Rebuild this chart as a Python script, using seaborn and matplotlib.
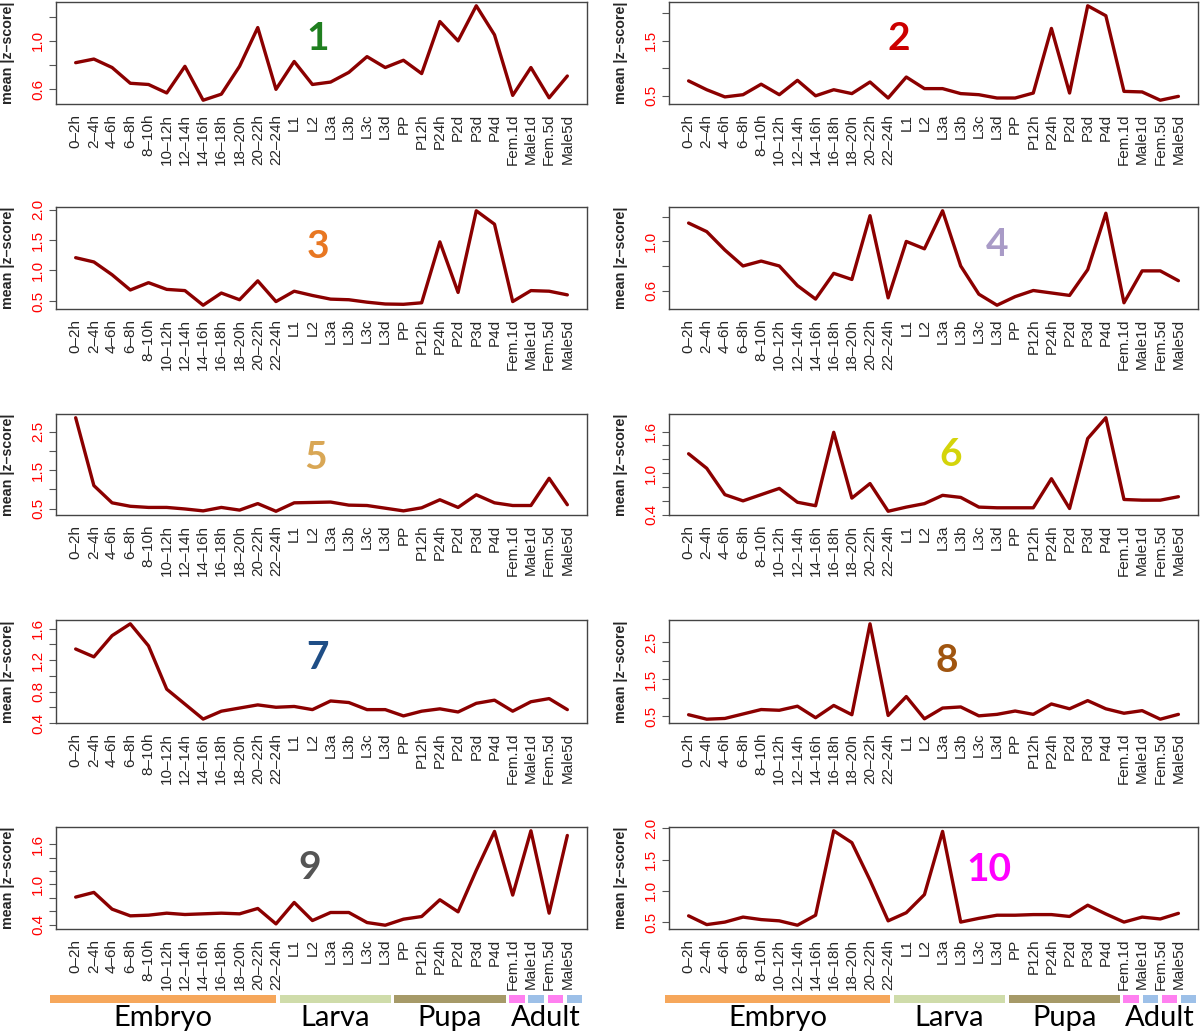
import numpy as np
import pandas as pd
import seaborn as sns
import matplotlib.pyplot as plt
from matplotlib.patches import Rectangle

# time points (x axis)
stages = ["0–2h", "2–4h", "4–6h", "6–8h", "8–10h", "10–12h", "12–14h", "14–16h",
          "16–18h", "18–20h", "20–22h", "22–24h", "L1", "L2", "L3a", "L3b", "L3c",
          "L3d", "PP", "P12h", "P24h", "P2d", "P3d", "P4d", "Fem.1d", "Male1d",
          "Fem.5d", "Male5d"]

# mean |z-score| per cluster
cluster_1 = [0.82, 0.85, 0.78, 0.65, 0.64, 0.57, 0.79, 0.51, 0.56, 0.79, 1.11, 0.60,
             0.83, 0.64, 0.66, 0.74, 0.87, 0.78, 0.84, 0.73, 1.16, 1.00, 1.29, 1.05,
             0.55, 0.78, 0.53, 0.71]
cluster_2 = [0.77, 0.61, 0.48, 0.52, 0.71, 0.52, 0.78, 0.50, 0.61, 0.54, 0.75, 0.46,
             0.84, 0.63, 0.63, 0.54, 0.52, 0.46, 0.46, 0.55, 1.72, 0.55, 2.13, 1.95,
             0.58, 0.57, 0.42, 0.49]
cluster_3 = [1.21, 1.14, 0.93, 0.68, 0.80, 0.69, 0.67, 0.43, 0.63, 0.52, 0.83, 0.49,
             0.66, 0.59, 0.53, 0.52, 0.48, 0.45, 0.445, 0.47, 1.47, 0.64, 1.98, 1.76,
             0.49, 0.67, 0.66, 0.60]
cluster_4 = [1.15, 1.08, 0.93, 0.80, 0.84, 0.80, 0.64, 0.53, 0.74, 0.69, 1.21, 0.54,
             1.00, 0.94, 1.25, 0.80, 0.57, 0.48, 0.55, 0.60, 0.58, 0.56, 0.77, 1.23,
             0.50, 0.76, 0.76, 0.68]
cluster_5 = [2.87, 1.10, 0.65, 0.56, 0.53, 0.53, 0.49, 0.44, 0.53, 0.46, 0.63, 0.43,
             0.65, 0.66, 0.67, 0.59, 0.58, 0.51, 0.44, 0.52, 0.73, 0.53, 0.86, 0.65,
             0.58, 0.58, 1.29, 0.60]
cluster_6 = [1.28, 1.07, 0.69, 0.60, 0.69, 0.78, 0.58, 0.53, 1.59, 0.64, 0.85, 0.45,
             0.51, 0.56, 0.68, 0.65, 0.51, 0.50, 0.50, 0.50, 0.92, 0.49, 1.50, 1.80,
             0.62, 0.61, 0.61, 0.66]
cluster_7 = [1.34, 1.24, 1.51, 1.66, 1.38, 0.83, 0.64, 0.45, 0.55, 0.59, 0.63, 0.60,
             0.61, 0.57, 0.68, 0.66, 0.57, 0.57, 0.49, 0.55, 0.58, 0.54, 0.65, 0.69,
             0.55, 0.67, 0.71, 0.57]
cluster_8 = [0.54, 0.42, 0.44, 0.56, 0.68, 0.66, 0.77, 0.46, 0.79, 0.54, 2.99, 0.52,
             1.03, 0.43, 0.72, 0.75, 0.51, 0.55, 0.64, 0.55, 0.83, 0.70, 0.92, 0.70,
             0.58, 0.65, 0.42, 0.55]
cluster_9 = [0.81, 0.88, 0.63, 0.53, 0.54, 0.57, 0.55, 0.56, 0.57, 0.56, 0.64, 0.41,
             0.73, 0.46, 0.58, 0.58, 0.43, 0.39, 0.48, 0.52, 0.77, 0.59, 1.21, 1.79,
             0.84, 1.80, 0.57, 1.73]
cluster_10 = [0.60, 0.46, 0.50, 0.58, 0.54, 0.52, 0.45, 0.61, 1.96, 1.77, 1.17, 0.52,
              0.65, 0.94, 1.95, 0.50, 0.56, 0.61, 0.61, 0.62, 0.62, 0.59, 0.77, 0.63,
              0.50, 0.58, 0.55, 0.64]

clusters = [cluster_1, cluster_2, cluster_3, cluster_4, cluster_5,
            cluster_6, cluster_7, cluster_8, cluster_9, cluster_10]
cluster_names = ["1", "2", "3", "4", "5", "6", "7", "8", "9", "10"]

# y ticks of each panel and the ones that carry a label
yticks = [[0.6, 0.8, 1.0, 1.2], [0.5, 1.0, 1.5, 2.0], [0.5, 1.0, 1.5, 2.0],
          [0.6, 0.8, 1.0, 1.2], [0.5, 1.0, 1.5, 2.0, 2.5],
          [0.4, 0.6, 0.8, 1.0, 1.2, 1.4, 1.6], [0.4, 0.6, 0.8, 1.0, 1.2, 1.4, 1.6],
          [0.5, 1.0, 1.5, 2.0, 2.5], [0.4, 0.6, 0.8, 1.0, 1.2, 1.4, 1.6],
          [0.5, 1.0, 1.5, 2.0]]
ylabeled = [[0.6, 1.0], [0.5, 1.5], [0.5, 1.0, 1.5, 2.0], [0.6, 1.0],
            [0.5, 1.5, 2.5], [0.4, 1.0, 1.6], [0.4, 0.8, 1.2, 1.6],
            [0.5, 1.5, 2.5], [0.4, 1.0, 1.6], [0.5, 1.0, 1.5, 2.0]]

# developmental stages under the bottom panels
stage_names = ["Embryo", "Larva", "Pupa", "Adult"]
stage_counts = [12, 6, 6, 4]

# colours / placement
num_colors = ["#1f7f1f", "#cc0000", "#e87722", "#a99bc7", "#d9a755",
              "#d4d40a", "#1f4e86", "#a0550f", "#555555", "#ff00ff"]
num_pos = [(0.493, 0.64), (0.435, 0.64), (0.493, 0.61), (0.62, 0.63), (0.488, 0.57),
           (0.533, 0.60), (0.493, 0.64), (0.525, 0.61), (0.478, 0.60), (0.605, 0.58)]
stage_colors = ["#f6a75b", "#cfdcaa", "#a69a68"]
adult_colors = ["#ff80f0", "#9dc0e8", "#ff80f0", "#9dc0e8"]

sns.set_style("white")
plt.rcParams["font.family"] = ["Liberation Sans", "DejaVu Sans"]

W, H = 1200, 1031
fig = plt.figure(figsize=(W / 100, H / 100), dpi=100)

col_x = [(56, 587), (669, 1198)]
row_y = [(2, 104), (207, 309), (414, 515), (620, 723), (827, 929)]
band_x = [(48, 584), (663, 1198)]

n = len(stages)
for i, vals in enumerate(clusters):
    row, col = divmod(i, 2)
    x0, x1 = col_x[col]
    y0, y1 = row_y[row]
    ax = fig.add_axes([x0 / W, 1 - y1 / H, (x1 - x0) / W, (y1 - y0) / H])
    df = pd.DataFrame({"pos": np.arange(n), "score": vals})
    sns.lineplot(data=df, x="pos", y="score", ax=ax, color="#8b0000", lw=2.4)

    ax.set_xlim(-0.04 * (n - 1), (n - 1) * 1.04)
    lo, hi = min(vals), max(vals)
    pad = 0.04 * (hi - lo)
    ax.set_ylim(lo - pad, hi + pad)

    ax.set_xticks(range(n))
    ax.set_xticklabels(stages, rotation=90, fontsize=11)
    ax.tick_params(axis="x", length=0, pad=7)

    ax.set_yticks(yticks[i])
    labs = [f"{t:.1f}" if any(abs(t - l) < 1e-9 for l in ylabeled[i]) else ""
            for t in yticks[i]]
    ax.set_yticklabels(labs, rotation=90, va="center", color="red", fontsize=11)
    ax.tick_params(axis="y", length=5, width=0.8, color="#555555", pad=3, left=True)

    ax.set_xlabel("")
    ax.set_ylabel("mean |z–score|", fontweight="bold", fontsize=10.3)
    ax.yaxis.set_label_coords(-41 / (x1 - x0), 0.5)
    for sp in ax.spines.values():
        sp.set_visible(True)
        sp.set_color("#444444")
        sp.set_linewidth(1.0)

    ax.text(num_pos[i][0], num_pos[i][1], cluster_names[i], transform=ax.transAxes,
            ha="center", va="center", fontsize=28, fontweight="bold",
            family="Lato", color=num_colors[i])

# stage band below the bottom row
for col in range(2):
    bx0, bx1 = band_x[col]
    bax = fig.add_axes([bx0 / W, 0, (bx1 - bx0) / W, 41 / H])
    bax.set_xlim(0, sum(stage_counts))
    bax.set_ylim(41, 0)
    bax.axis("off")
    start = 0
    for k, (name, cnt) in enumerate(zip(stage_names, stage_counts)):
        if k < 3:
            bax.add_patch(Rectangle((start + 0.1, 5), cnt - 0.2, 8,
                                    color=stage_colors[k], lw=0))
        else:
            for j in range(cnt):
                bax.add_patch(Rectangle((start + j + 0.1, 5), 0.8, 8,
                                        color=adult_colors[j], lw=0))
        bax.text(start + cnt / 2, 28, name, ha="center", va="center",
                 fontsize=21, family="Lato", color="black")
        start += cnt

fig.savefig("out.png", dpi=100)
